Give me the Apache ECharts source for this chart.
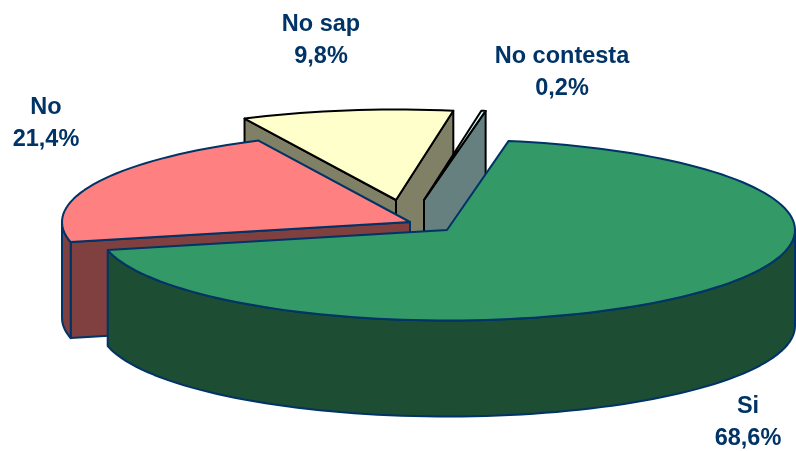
<!DOCTYPE html>
<html>
<head>
<meta charset="utf-8">
<style>html,body{margin:0;padding:0;background:#fff}#c{width:796px;height:451px}</style>
<script src="https://cdn.jsdelivr.net/npm/echarts@6/dist/echarts.min.js"></script>
</head>
<body>
<div id="c"></div>
<script>
const categories = ['Si', 'No', 'No sap', 'No contesta'];
const percentages = [68.6, 21.4, 9.8, 0.2];

// Styling and layout of the drawing (not data)
const topColors = ['#339966', '#ff8080', '#ffffcc', '#ccffff'];
const sideColors = ['#1d4d33', '#804040', '#808066', '#668080'];
const borderColors = ['#003366', '#003366', '#000000', '#000000'];
const apexes = [[447, 230], [410, 222], [396, 200], [424, 200]];
const labelCentres = [[748, 405], [46, 106], [321, 23], [562, 55]];
const paintOrder = [2, 3, 1, 0];
const RX = 348, RY = 90.5, DEPTH = 96, START_DEG = 10.2, LINE_GAP = 32;

const total = percentages.reduce((a, b) => a + b, 0);
const sweeps = percentages.map(v => v / total * 360);
const rad = d => d * Math.PI / 180;

function renderItem(params, api) {
  const i = api.value(0);
  const a0 = START_DEG + sweeps.slice(0, i).reduce((a, b) => a + b, 0);
  const a1 = a0 + api.value(1) / total * 360;
  const [cx, cy] = apexes[i];
  const pt = (d, dy) => [cx + RX * Math.sin(rad(d)), cy - RY * Math.cos(rad(d)) + (dy || 0)];
  const arc = (from, to, dy) => {
    const n = Math.max(2, Math.ceil((to - from) / 2));
    const out = [];
    for (let k = 0; k <= n; k++) out.push(pt(from + (to - from) * k / n, dy));
    return out;
  };
  const stroke = { stroke: borderColors[i], lineWidth: 2, lineJoin: 'round' };
  const children = [];
  const poly = (points, fill) => children.push({
    type: 'polygon', shape: { points }, style: Object.assign({ fill }, stroke)
  });
  const face = d => {
    const p = pt(d);
    poly([[cx, cy], p, [p[0], p[1] + DEPTH], [cx, cy + DEPTH]], sideColors[i]);
  };
  if (Math.sin(rad(a0)) < 0) face(a0);
  if (Math.sin(rad(a1)) > 0) face(a1);
  const w0 = Math.max(a0, 90), w1 = Math.min(a1, 270);
  if (w1 > w0) poly(arc(w0, w1, 0).concat(arc(w0, w1, DEPTH).reverse()), sideColors[i]);
  poly([[cx, cy]].concat(arc(a0, a1, 0)), topColors[i]);
  const [lx, ly] = labelCentres[i];
  const textStyle = t => ({
    text: t, fill: '#003366', font: 'bold 23.5px "Liberation Sans", Arial, sans-serif',
    align: 'center', verticalAlign: 'middle'
  });
  children.push({ type: 'text', x: lx, y: ly + 1.5, z2: 10, style: textStyle(categories[i]) });
  children.push({
    type: 'text', x: lx, y: ly + 1.5 + LINE_GAP, z2: 10,
    style: textStyle(percentages[i].toFixed(1).replace('.', ',') + '%')
  });
  return { type: 'group', children };
}

const chart = echarts.init(document.getElementById('c'), null, { renderer: 'canvas' });
chart.setOption({
  backgroundColor: '#ffffff',
  animation: false,
  series: [{
    type: 'custom',
    coordinateSystem: 'none',
    silent: true,
    renderItem,
    // painter's order: the slices at the back come first
    data: paintOrder.map(i => [i, percentages[i]])
  }]
});
</script>
</body>
</html>
